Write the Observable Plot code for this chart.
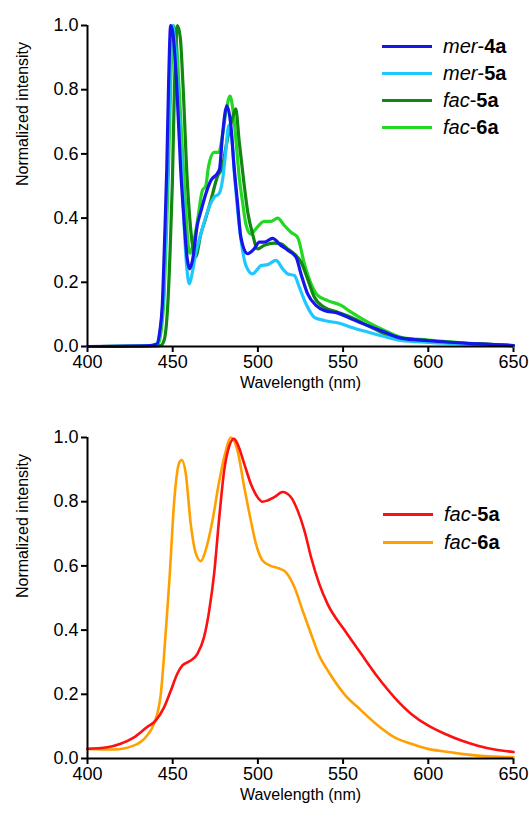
<!DOCTYPE html>
<html>
<head>
<meta charset="utf-8">
<script src="https://cdn.jsdelivr.net/npm/d3@7"></script>
<script src="https://cdn.jsdelivr.net/npm/@observablehq/plot@0.6"></script>
<style>
  html, body { margin: 0; padding: 0; background: #fff; }
  #wrap { position: relative; width: 529px; font-family: "Liberation Sans", Arial, sans-serif; }
  .legend { position: absolute; font-size: 20px; color: #000; }
  .row { position: absolute; left: 0; white-space: nowrap; height: 0; }
  .sw { position: absolute; left: 0; width: 50px; height: 3px; top: -1.5px; }
  .lab { position: absolute; left: 61px; top: -12px; line-height: 24px; }
  .lab i { font-style: italic; }
  .lab b { font-weight: bold; }
</style>
</head>
<body>
<div id="wrap"></div>
<script>
// ---------- data (wavelength nm, normalized intensity) ----------
const xTicks = [400, 450, 500, 550, 600, 650];
const yTicks = [0, 0.2, 0.4, 0.6, 0.8, 1.0];

const topSeries = ["fac-6a", "fac-5a", "mer-5a", "mer-4a"]; // draw order
const topColors = ["#22d822", "#118811", "#1ec8ff", "#1616e8"];

const mer4a = [[400,0],[435,0.002],[440.8,0.008],[442.5,0.05],[443.9,0.13],[445.3,0.34],[446.5,0.55],[447.6,0.82],[448.8,1.0],[450,0.98],[452.3,0.82],[454.7,0.55],[456.7,0.39],[458.6,0.27],[460,0.242],[461.6,0.268],[464.5,0.38],[466.5,0.42],[469.4,0.475],[472.4,0.517],[476.3,0.54],[477.5,0.553],[479.2,0.657],[481.8,0.75],[484.1,0.69],[486,0.56],[488,0.45],[490,0.34],[494,0.289],[497.8,0.304],[500.8,0.325],[503.7,0.325],[508.6,0.337],[513.5,0.315],[517.5,0.30],[522.4,0.278],[525.3,0.226],[529.2,0.164],[534.1,0.128],[539,0.112],[546.9,0.104],[554.7,0.086],[564.5,0.065],[574.3,0.045],[584,0.026],[600,0.018],[630,0.008],[650,0.003]];

const mer5a = [[400,0],[440,0.003],[442,0.03],[444.5,0.15],[446,0.38],[447,0.55],[448.5,0.85],[449.8,1.0],[451,0.96],[453,0.78],[455.7,0.51],[456.7,0.38],[458.2,0.25],[459.8,0.195],[461.5,0.23],[463.5,0.29],[466.5,0.35],[470.4,0.42],[474.3,0.465],[477.2,0.476],[479.2,0.517],[481,0.6],[483,0.69],[484.5,0.66],[486.5,0.52],[489,0.38],[491,0.30],[493,0.252],[496.9,0.226],[500,0.242],[501.8,0.252],[505.7,0.255],[510.6,0.268],[514.5,0.242],[517.5,0.226],[521.4,0.221],[524.3,0.185],[528.2,0.133],[533.1,0.091],[539,0.081],[548.8,0.071],[554.7,0.06],[564.5,0.045],[574.3,0.031],[584,0.019],[600,0.013],[630,0.006],[650,0.002]];

const fac5a = [[400,0],[443,0.003],[445,0.02],[447,0.12],[448.5,0.3],[449.8,0.51],[451,0.8],[452.8,1.0],[454.5,0.96],[456,0.82],[458.6,0.51],[460,0.4],[461.5,0.32],[463.5,0.28],[466.5,0.35],[469.4,0.40],[472.4,0.455],[476.3,0.53],[479.2,0.56],[481.2,0.62],[483.5,0.68],[485,0.71],[487,0.74],[489,0.64],[491.8,0.51],[494,0.42],[496.9,0.35],[499.8,0.304],[503.7,0.315],[509.6,0.322],[513.5,0.32],[517.5,0.304],[521,0.29],[525.3,0.263],[529.2,0.21],[533.1,0.154],[539,0.122],[546.9,0.107],[554.7,0.091],[564.5,0.065],[574.3,0.04],[584,0.026],[600,0.018],[630,0.008],[650,0.003]];

const fac6a = [[400,0],[441,0.003],[443,0.04],[445,0.16],[446.5,0.38],[447.5,0.55],[449,0.85],[450.6,1.0],[452,0.96],[454,0.78],[456.7,0.51],[458,0.4],[459,0.32],[460.2,0.29],[462,0.32],[464.5,0.39],[467.4,0.486],[469.4,0.50],[471,0.56],[474.3,0.605],[477,0.605],[479,0.65],[481.5,0.74],[483.7,0.78],[485.5,0.73],[487.5,0.62],[489,0.53],[491,0.45],[493,0.38],[495.9,0.35],[497.8,0.36],[503.7,0.39],[507.6,0.39],[511.6,0.40],[515.5,0.377],[519.4,0.356],[523.3,0.34],[527.3,0.257],[531.2,0.195],[535.1,0.159],[541,0.143],[548.8,0.128],[554.7,0.107],[564.5,0.076],[574.3,0.05],[584,0.029],[600,0.02],[630,0.008],[650,0.003]];

const botSeries = ["fac-6a", "fac-5a"]; // draw order
const botColors = ["#ffa000", "#ff0f0f"];

const fac6aSol = [[400,0.030],[415.5,0.028],[427,0.04],[435,0.072],[439,0.108],[443,0.20],[446,0.40],[448,0.55],[451,0.81],[453.7,0.92],[455.3,0.93],[457.6,0.89],[460.6,0.73],[463.5,0.64],[466.5,0.615],[469.4,0.65],[473.3,0.74],[477,0.855],[481,0.955],[484,1.0],[488,0.96],[492,0.845],[495.9,0.74],[498.8,0.67],[502.7,0.617],[507.6,0.60],[512.5,0.592],[516.5,0.58],[521.4,0.534],[526.3,0.46],[531.2,0.388],[536,0.32],[541,0.274],[550.8,0.20],[560.6,0.15],[570.4,0.103],[580.2,0.066],[590,0.046],[599.8,0.030],[609.6,0.022],[619.4,0.0145],[629,0.009],[639,0.006],[650,0.004]];

const fac5aSol = [[400,0.03],[411.6,0.035],[419.4,0.046],[427.3,0.066],[435,0.098],[440,0.118],[445,0.16],[448.8,0.21],[452.7,0.264],[455.7,0.29],[460.6,0.305],[464.5,0.326],[468.4,0.378],[471.4,0.46],[474.3,0.575],[477.3,0.75],[480.2,0.897],[483,0.97],[486,0.996],[488,0.98],[492,0.918],[495.9,0.855],[499.8,0.814],[502.7,0.80],[505.7,0.804],[509.6,0.814],[514.5,0.83],[519.4,0.814],[523.3,0.773],[527.3,0.71],[531.2,0.627],[536,0.544],[541,0.48],[550.8,0.40],[560.6,0.326],[570.4,0.253],[580.2,0.19],[590,0.139],[599.8,0.103],[609.6,0.077],[619.4,0.056],[629,0.04],[639,0.028],[650,0.02]];

// ---------- build tables ----------
const topData = [
  ...fac6a.map(([x, y]) => ({x, y, s: "fac-6a"})),
  ...fac5a.map(([x, y]) => ({x, y, s: "fac-5a"})),
  ...mer5a.map(([x, y]) => ({x, y, s: "mer-5a"})),
  ...mer4a.map(([x, y]) => ({x, y, s: "mer-4a"}))
];
const botData = [
  ...fac6aSol.map(([x, y]) => ({x, y, s: "fac-6a"})),
  ...fac5aSol.map(([x, y]) => ({x, y, s: "fac-5a"}))
];

const FONT = '"Liberation Sans", Arial, sans-serif';

function panel(data, series, colors, height, mt, mb, sw) {
  return Plot.plot({
    width: 529,
    height,
    marginLeft: 87,
    marginRight: 16,
    marginTop: mt,
    marginBottom: mb,
    style: {fontFamily: FONT, fontSize: "18px", color: "#000", background: "#fff", overflow: "visible"},
    x: {domain: [400, 650], axis: null},
    y: {domain: [0, 1], axis: null},
    color: {domain: series, range: colors},
    marks: [
      Plot.axisX({ticks: xTicks, tickSize: 6, tickPadding: 3, tickFormat: d3.format("d"), label: null, strokeWidth: 2, fontSize: 18}),
      Plot.axisY({ticks: yTicks, tickSize: 6, tickPadding: 3, tickFormat: d3.format(".1f"), label: null, strokeWidth: 2, fontSize: 18}),
      Plot.line(data, {x: "x", y: "y", z: "s", stroke: "s", strokeWidth: sw, curve: "monotone-x"}),
      Plot.ruleY([0], {stroke: "#000", strokeWidth: 2}),
      Plot.ruleX([400], {stroke: "#000", strokeWidth: 2}),
      Plot.text(["Wavelength (nm)"], {frameAnchor: "bottom", dy: 41, fontSize: 16, fill: "#000"}),
      Plot.text(["Normalized intensity"], {frameAnchor: "left", dx: -65, rotate: -90, fontSize: 16, fill: "#000"})
    ]
  });
}

const wrap = document.getElementById("wrap");
const top1 = panel(topData, topSeries, topColors, 408, 25, 62, 3.2);
const bot1 = panel(botData, botSeries, botColors, 409, 29, 59, 2.6);
top1.style.display = "block";
bot1.style.display = "block";
wrap.appendChild(top1);
wrap.appendChild(bot1);

function legend(items, left, tops) {
  const div = document.createElement("div");
  div.className = "legend";
  div.style.left = left + "px";
  div.style.top = "0px";
  items.forEach((it, i) => {
    const row = document.createElement("div");
    row.className = "row";
    row.style.top = tops[i] + "px";
    const [pre, post] = it.name.split("-");
    row.innerHTML = `<span class="sw" style="background:${it.color}"></span><span class="lab"><i>${pre}</i>-<b>${post}</b></span>`;
    div.appendChild(row);
  });
  wrap.appendChild(div);
}
legend([
  {name: "mer-4a", color: topColors[3]},
  {name: "mer-5a", color: topColors[2]},
  {name: "fac-5a", color: topColors[1]},
  {name: "fac-6a", color: topColors[0]}
], 382, [46, 73, 100, 127]);
legend([
  {name: "fac-5a", color: botColors[1]},
  {name: "fac-6a", color: botColors[0]}
], 383, [514, 542]);
</script>
</body>
</html>
